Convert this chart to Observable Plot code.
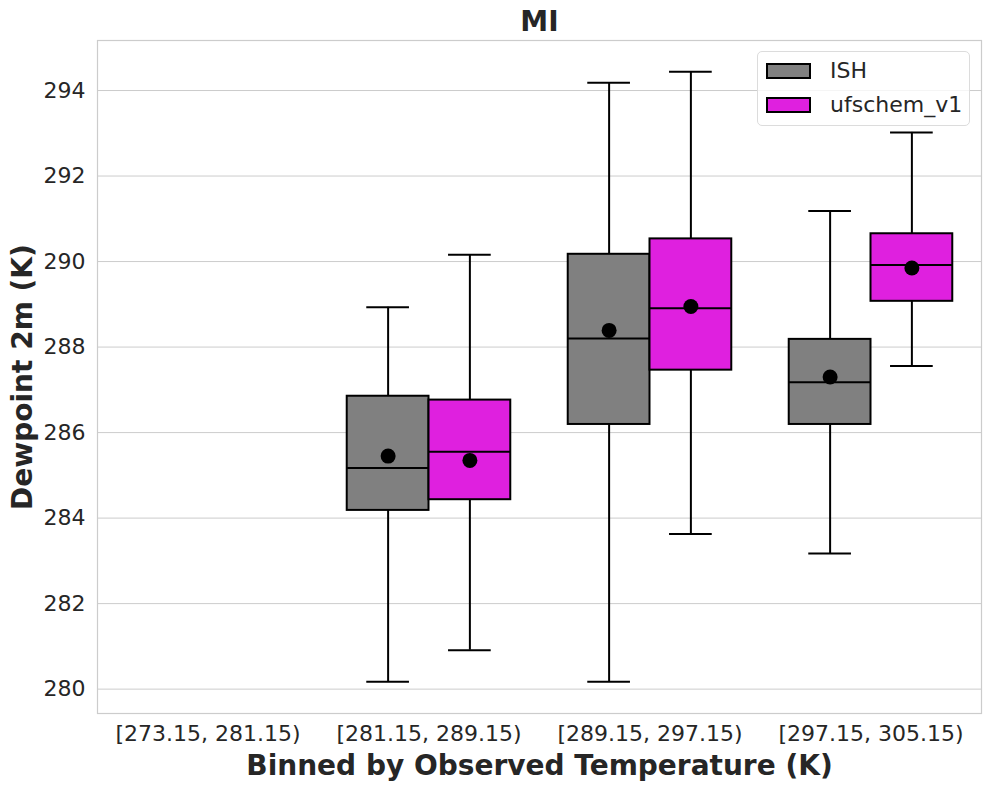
<!DOCTYPE html>
<html>
<head>
<meta charset="utf-8">
<script src="https://cdn.jsdelivr.net/npm/d3@7"></script>
<script src="https://cdn.jsdelivr.net/npm/@observablehq/plot@0.6"></script>
<style>
  body { margin: 0; background: #fff; font-family: "DejaVu Sans", sans-serif; }
  #chart { position: relative; width: 991px; height: 791px; }
  .legend {
    position: absolute; left: 757px; top: 51px; width: 213px; height: 75px;
    box-sizing: border-box; border: 1px solid #dcdcdc; border-radius: 5px;
    background: rgba(255,255,255,0.8);
  }
  .legend .item { position: absolute; left: 8px; height: 22px; display: flex; align-items: center; }
  .legend .swatch { width: 45px; height: 16px; box-sizing: border-box; border: 2px solid #000; }
  .legend .name { margin-left: 19px; font-size: 22px; color: #262626; line-height: 22px; }
</style>
</head>
<body>
<div id="chart"></div>
<script>
// Temperature bins (x categories) and the two data sources
const bins = ["[273.15, 281.15)", "[281.15, 289.15)", "[289.15, 297.15)", "[297.15, 305.15)"];
const series = ["ISH", "ufschem_v1"];
const colors = ["#808080", "#df20df"];

// Box statistics per bin (K); the first bin has no observations
const ishLow  = [null, 280.17, 280.17, 283.17];
const ishQ1   = [null, 284.18, 286.19, 286.19];
const ishMed  = [null, 285.17, 288.20, 287.18];
const ishQ3   = [null, 286.85, 290.17, 288.18];
const ishHigh = [null, 288.93, 294.18, 291.18];
const ishMean = [null, 285.45, 288.39, 287.30];

const ufLow  = [null, 280.91, 283.63, 287.56];
const ufQ1   = [null, 284.43, 287.46, 289.07];
const ufMed  = [null, 285.55, 288.91, 289.92];
const ufQ3   = [null, 286.76, 290.53, 290.65];
const ufHigh = [null, 290.16, 294.44, 293.02];
const ufMean = [null, 285.35, 288.95, 289.85];

const yTicks = [280, 282, 284, 286, 288, 290, 292, 294];

// Dodge layout within each bin (in bin units)
const offset = [-0.185, 0.185];
const boxHalf = 0.185;
const capHalf = 0.0966;

const stats = [
  {low: ishLow, q1: ishQ1, med: ishMed, q3: ishQ3, high: ishHigh, mean: ishMean},
  {low: ufLow, q1: ufQ1, med: ufMed, q3: ufQ3, high: ufHigh, mean: ufMean}
];

const data = [];
series.forEach((s, k) => {
  const st = stats[k];
  bins.forEach((b, i) => {
    if (st.med[i] == null) return;
    data.push({
      series: s, bin: b, x: i + offset[k],
      low: st.low[i], q1: st.q1[i], med: st.med[i], q3: st.q3[i], high: st.high[i], mean: st.mean[i]
    });
  });
});

const ink = "#262626";
const gridColor = "#cccccc";

const chart = Plot.plot({
  width: 991,
  height: 791,
  marginLeft: 97,
  marginRight: 10,
  marginTop: 40,
  marginBottom: 78,
  style: {fontFamily: "DejaVu Sans", fontSize: "22px", color: ink, background: "#fff", overflow: "visible"},
  x: {domain: [-0.5, bins.length - 0.5]},
  y: {domain: [279.43, 295.17]},
  color: {domain: series, range: colors},
  marks: [
    Plot.gridY(yTicks, {stroke: gridColor, strokeOpacity: 1, strokeWidth: 1}),
    Plot.frame({stroke: gridColor, strokeWidth: 1.2}),
    Plot.axisY(yTicks, {tickSize: 0, tickPadding: 12, label: null, tickFormat: d => String(d)}),
    Plot.axisX(d3.range(bins.length), {tickSize: 0, tickPadding: 12, label: null, tickFormat: i => bins[i]}),
    // whiskers
    Plot.ruleX(data, {x: "x", y1: "q3", y2: "high", stroke: "#000", strokeWidth: 2}),
    Plot.ruleX(data, {x: "x", y1: "low", y2: "q1", stroke: "#000", strokeWidth: 2}),
    Plot.ruleY(data, {y: "high", x1: d => d.x - capHalf, x2: d => d.x + capHalf, stroke: "#000", strokeWidth: 2}),
    Plot.ruleY(data, {y: "low", x1: d => d.x - capHalf, x2: d => d.x + capHalf, stroke: "#000", strokeWidth: 2}),
    // boxes
    Plot.rect(data, {x1: d => d.x - boxHalf, x2: d => d.x + boxHalf, y1: "q1", y2: "q3", fill: "series", stroke: "#000", strokeWidth: 2}),
    // medians
    Plot.ruleY(data, {y: "med", x1: d => d.x - boxHalf, x2: d => d.x + boxHalf, stroke: "#000", strokeWidth: 2}),
    // means
    Plot.dot(data, {x: "x", y: "mean", r: 7.5, fill: "#000", stroke: null}),
    // title and axis labels
    Plot.text(["MI"], {frameAnchor: "top", dy: -18, fontSize: 28, fontWeight: "bold", fill: ink, lineAnchor: "middle"}),
    Plot.text(["Binned by Observed Temperature (K)"], {frameAnchor: "bottom", dy: 53, fontSize: 28, fontWeight: "bold", fill: ink, lineAnchor: "middle"}),
    Plot.text(["Dewpoint 2m (K)"], {frameAnchor: "left", dx: -74, rotate: -90, textAnchor: "middle", fontSize: 28, fontWeight: "bold", fill: ink, lineAnchor: "middle"})
  ]
});

const root = document.getElementById("chart");
root.appendChild(chart);

// Legend overlaid in the upper-right corner of the plot area
const legend = document.createElement("div");
legend.className = "legend";
series.forEach((s, k) => {
  const item = document.createElement("div");
  item.className = "item";
  item.style.top = (8 + k * 34) + "px";
  const sw = document.createElement("div");
  sw.className = "swatch";
  sw.style.background = colors[k];
  const name = document.createElement("span");
  name.className = "name";
  name.textContent = s;
  item.appendChild(sw);
  item.appendChild(name);
  legend.appendChild(item);
});
root.appendChild(legend);
</script>
</body>
</html>
